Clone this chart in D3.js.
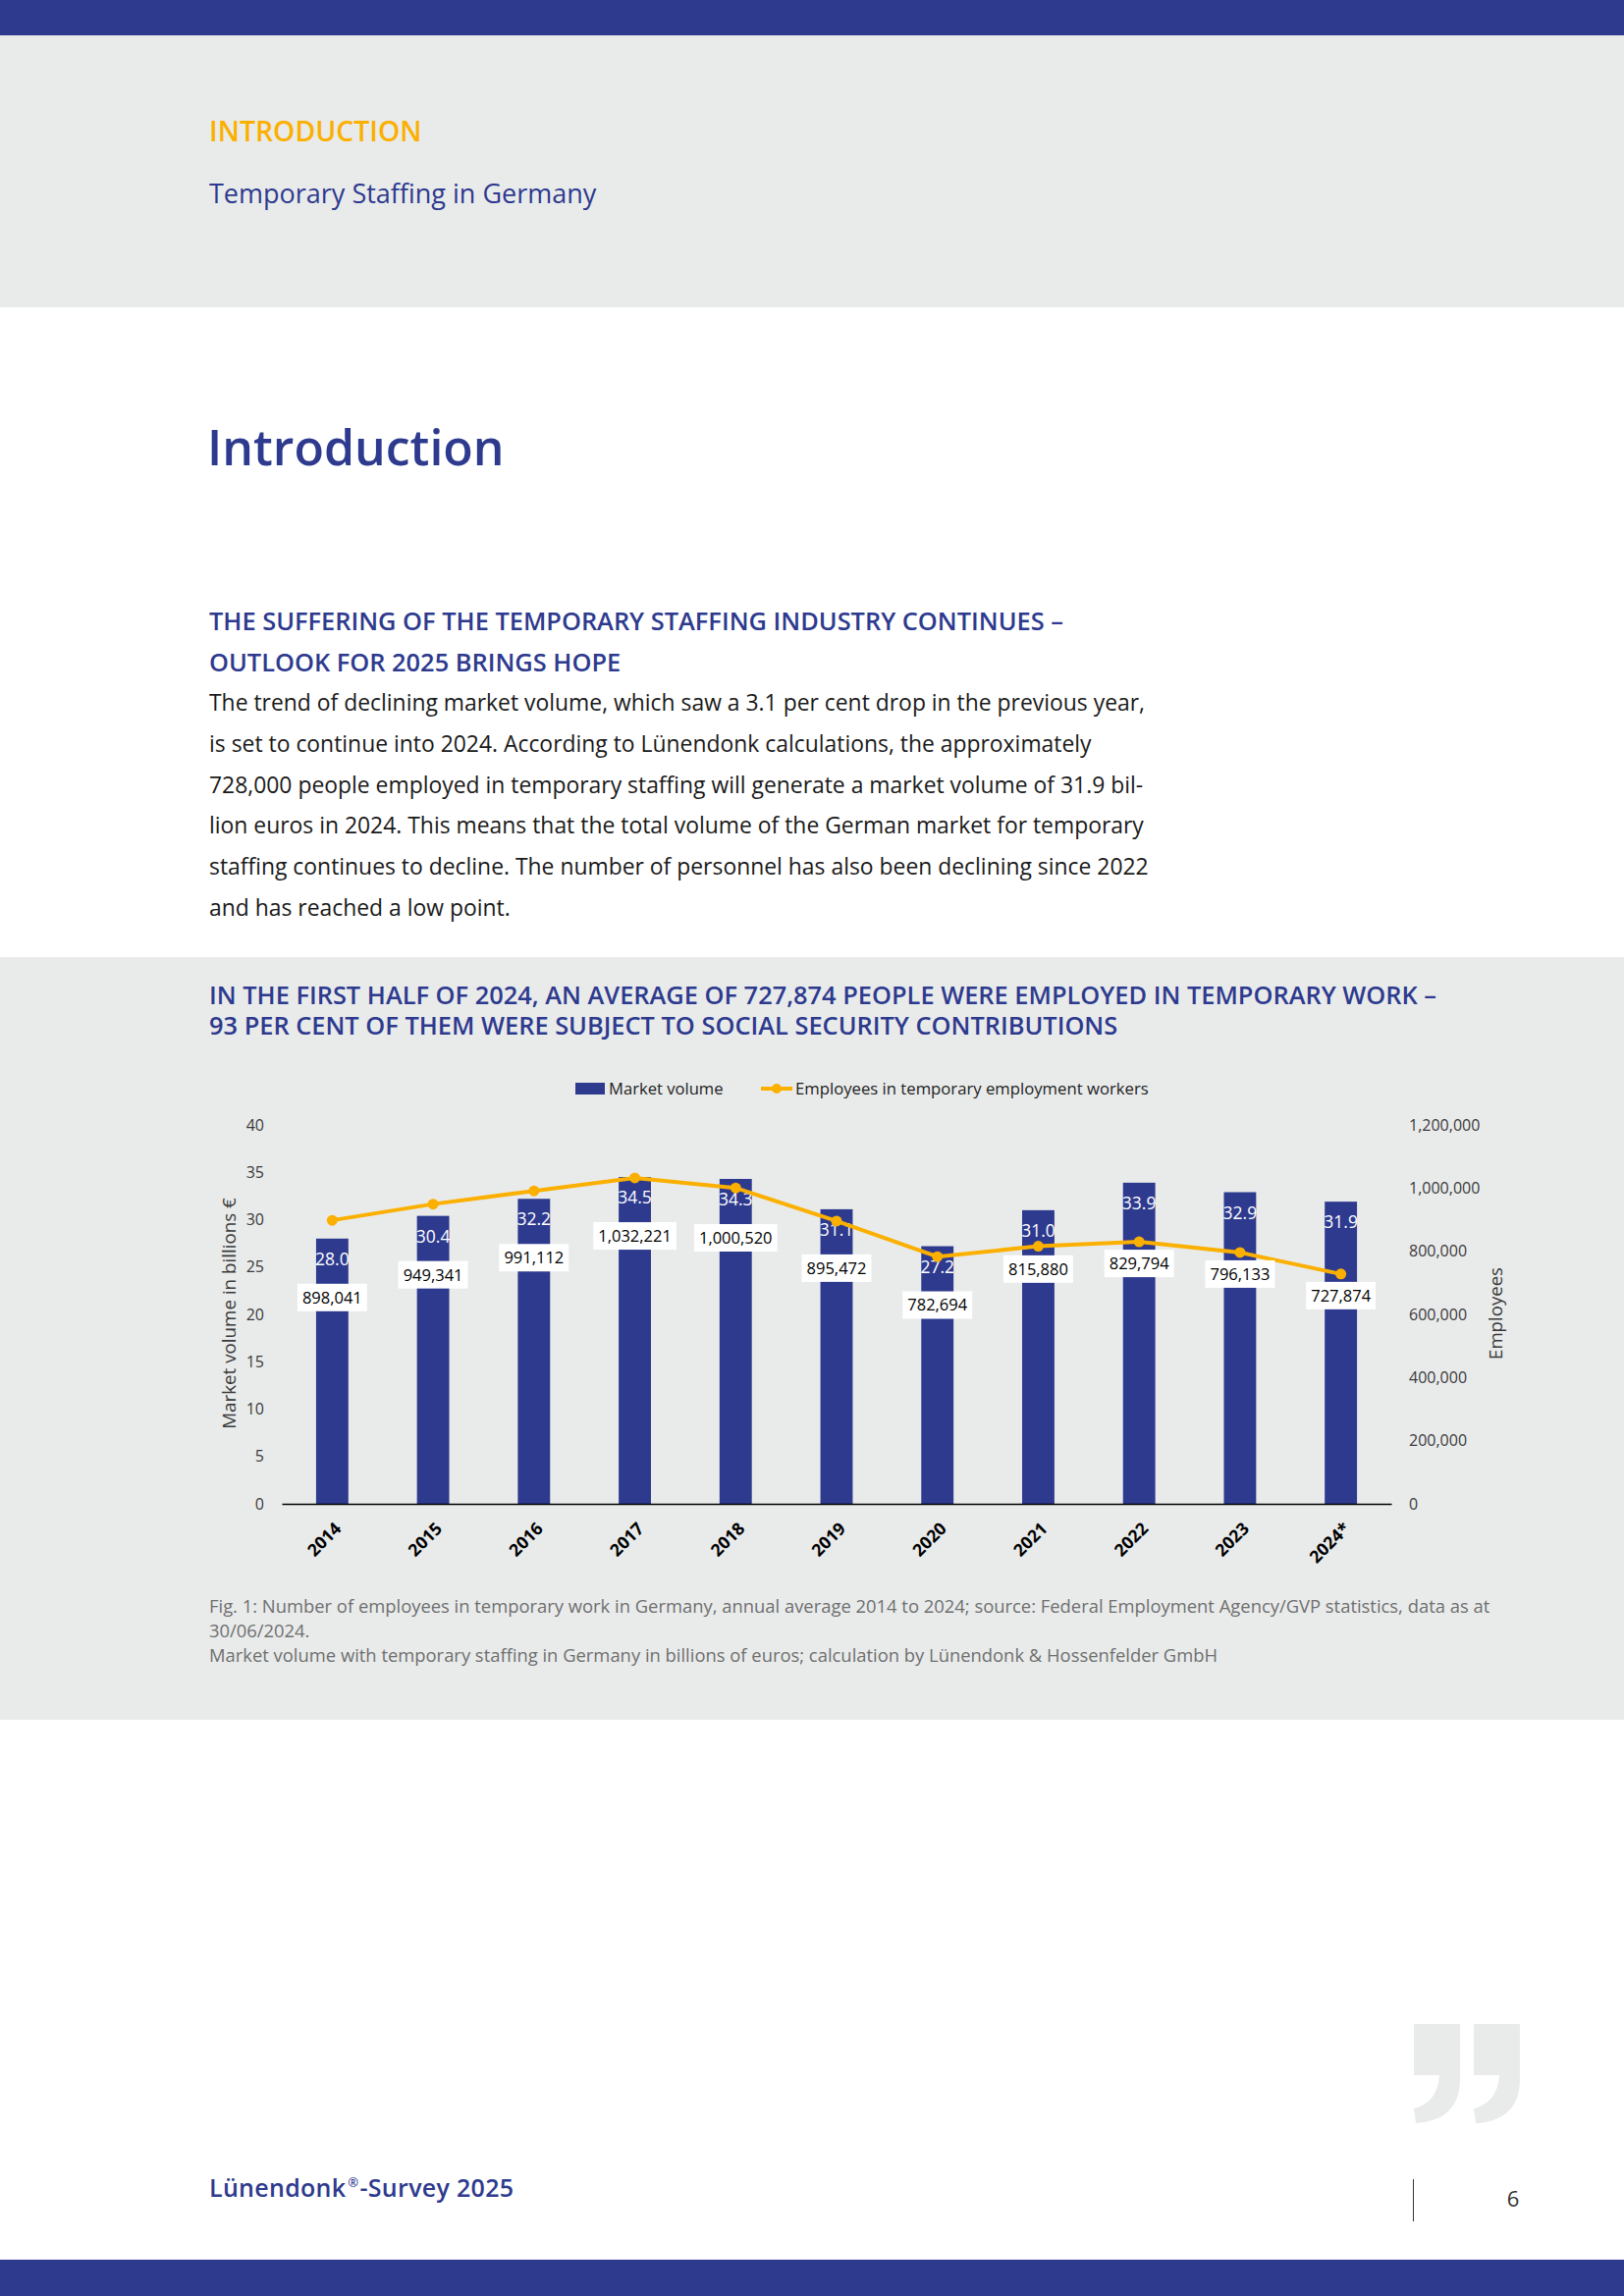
<!DOCTYPE html>
<html>
<head>
<meta charset="utf-8">
<script src="https://cdn.jsdelivr.net/npm/d3@7"></script>
<style>
  body { margin: 0; background: #fff; }
  svg { display: block; }
  text { font-family: "Open Sans", sans-serif; }
</style>
</head>
<body>
<div id="page"></div>
<script>
// chart data
const years = ["2014", "2015", "2016", "2017", "2018", "2019", "2020", "2021", "2022", "2023", "2024*"];
const marketVolume = [28.0, 30.4, 32.2, 34.5, 34.3, 31.1, 27.2, 31.0, 33.9, 32.9, 31.9];
const employees = [898041, 949341, 991112, 1032221, 1000520, 895472, 782694, 815880, 829794, 796133, 727874];
const volumeTicks = [0, 5, 10, 15, 20, 25, 30, 35, 40];
const employeeTicks = [0, 200000, 400000, 600000, 800000, 1000000, 1200000];
const legendLabels = ["Market volume", "Employees in temporary employment workers"];

// page texts
const headingLines = [
    "THE SUFFERING OF THE TEMPORARY STAFFING INDUSTRY CONTINUES –",
    "OUTLOOK FOR 2025 BRINGS HOPE"
];
const bodyLines = [
    "The trend of declining market volume, which saw a 3.1 per cent drop in the previous year,",
    "is set to continue into 2024. According to Lünendonk calculations, the approximately",
    "728,000 people employed in temporary staffing will generate a market volume of 31.9 bil-",
    "lion euros in 2024. This means that the total volume of the German market for temporary",
    "staffing continues to decline. The number of personnel has also been declining since 2022",
    "and has reached a low point."
];
const chartTitleLines = [
    "IN THE FIRST HALF OF 2024, AN AVERAGE OF 727,874 PEOPLE WERE EMPLOYED IN TEMPORARY WORK –",
    "93 PER CENT OF THEM WERE SUBJECT TO SOCIAL SECURITY CONTRIBUTIONS"
];
const captionLines = [
    "Fig. 1: Number of employees in temporary work in Germany, annual average 2014 to 2024; source: Federal Employment Agency/GVP statistics, data as at",
    "30/06/2024.",
    "Market volume with temporary staffing in Germany in billions of euros; calculation by Lünendonk & Hossenfelder GmbH"
];

const navy = "#2e3a8e";
const orange = "#fbb000";
const grey = "#e9ebeb";

const W = 1654, H = 2339;
const svg = d3.select("#page").append("svg").attr("width", W).attr("height", H);

// ---- page frame ----
svg.append("rect").attr("x", 0).attr("y", 0).attr("width", W).attr("height", 36).attr("fill", navy);
svg.append("rect").attr("x", 0).attr("y", 36).attr("width", W).attr("height", 277).attr("fill", grey);
svg.append("rect").attr("x", 0).attr("y", 975).attr("width", W).attr("height", 777).attr("fill", grey);
svg.append("rect").attr("x", 0).attr("y", 2302).attr("width", W).attr("height", 37).attr("fill", navy);

svg.append("text").attr("x", 213).attr("y", 144)
    .attr("font-size", 28.4).attr("font-weight", 600).attr("fill", orange)
    .text("INTRODUCTION");
svg.append("text").attr("x", 213).attr("y", 207)
    .attr("font-size", 27).attr("font-weight", 500).attr("fill", navy)
    .text("Temporary Staffing in Germany");

svg.append("text").attr("x", 211).attr("y", 474)
    .attr("font-size", 50).attr("font-weight", 600).attr("fill", navy)
    .text("Introduction");

svg.append("g").selectAll("text").data(headingLines).join("text")
    .attr("x", 213).attr("y", (d, i) => 642 + i * 41.5)
    .attr("font-size", 25.4).attr("font-weight", 600).attr("fill", navy)
    .text(d => d);

svg.append("g").selectAll("text").data(bodyLines).join("text")
    .attr("x", 213).attr("y", (d, i) => 724 + i * 41.8)
    .attr("font-size", 22.9).attr("fill", "#1a1a1a")
    .text(d => d);

svg.append("g").selectAll("text").data(chartTitleLines).join("text")
    .attr("x", 213).attr("y", (d, i) => 1023 + i * 31)
    .attr("font-size", 25.4).attr("font-weight", 600).attr("fill", navy)
    .text(d => d);

svg.append("g").selectAll("text").data(captionLines).join("text")
    .attr("x", 213).attr("y", (d, i) => 1643 + i * 25)
    .attr("font-size", 18.4).attr("fill", "#6f6f6f")
    .text(d => d);

// ---- chart ----
const x = d3.scaleBand().domain(years).range([287, 1417]).paddingInner(0.68).paddingOuter(0.34);
const yLeft = d3.scaleLinear().domain([0, 40]).range([1532, 1146]);
const yRight = d3.scaleLinear().domain([0, 1200000]).range([1532, 1146]);
const fmt = d3.format(",");

const chart = svg.append("g");

const leftAxis = chart.append("g").attr("transform", "translate(287,0)")
    .call(d3.axisLeft(yLeft).tickValues(volumeTicks).tickSize(0).tickPadding(18));
leftAxis.select(".domain").remove();
leftAxis.selectAll("text").attr("font-size", 16).attr("fill", "#3a3a3a").attr("font-family", "Open Sans");

const rightAxis = chart.append("g").attr("transform", "translate(1417,0)")
    .call(d3.axisRight(yRight).tickValues(employeeTicks).tickSize(0).tickPadding(18).tickFormat(fmt));
rightAxis.select(".domain").remove();
rightAxis.selectAll("text").attr("font-size", 16).attr("fill", "#3a3a3a").attr("font-family", "Open Sans");

chart.append("text")
    .attr("transform", "translate(240,1338) rotate(-90)")
    .attr("text-anchor", "middle").attr("font-size", 18.8).attr("fill", "#3a3a3a")
    .text("Market volume in billions €");
chart.append("text")
    .attr("transform", "translate(1530,1338) rotate(-90)")
    .attr("text-anchor", "middle").attr("font-size", 18.6).attr("fill", "#3a3a3a")
    .text("Employees");

// bars
chart.append("g").selectAll("rect").data(marketVolume).join("rect")
    .attr("x", (d, i) => x(years[i]))
    .attr("y", d => yLeft(d))
    .attr("width", x.bandwidth())
    .attr("height", d => yLeft(0) - yLeft(d))
    .attr("fill", navy);

// bottom axis
const bottomAxis = chart.append("g").attr("transform", "translate(0,1532)")
    .call(d3.axisBottom(x).tickSize(0).tickSizeOuter(0).tickPadding(0));
bottomAxis.select(".domain").attr("stroke", "#000").attr("stroke-width", 1.6);
bottomAxis.selectAll("text")
    .attr("font-family", "Liberation Sans").attr("font-weight", 700).attr("font-size", 17.5).attr("fill", "#000")
    .attr("text-anchor", "end").attr("dy", "0.35em").attr("y", 0)
    .attr("transform", "translate(6,22) rotate(-45)");

// bar value labels
chart.append("g").selectAll("text").data(marketVolume).join("text")
    .attr("x", (d, i) => x(years[i]) + x.bandwidth() / 2)
    .attr("y", d => yLeft(d) + 27)
    .attr("text-anchor", "middle").attr("font-size", 17.5).attr("fill", "#fff")
    .text(d => d.toFixed(1));

// employee line
const cx = (d, i) => x(years[i]) + x.bandwidth() / 2;
const line = d3.line().x(cx).y(d => yRight(d));
chart.append("path").datum(employees)
    .attr("d", line).attr("fill", "none").attr("stroke", orange).attr("stroke-width", 4);
chart.append("g").selectAll("circle").data(employees).join("circle")
    .attr("cx", cx).attr("cy", d => yRight(d)).attr("r", 5.5).attr("fill", orange);

// employee labels: below the point and below the bar value label
const labelY = (d, i) => Math.max(yRight(d) + 22, yLeft(marketVolume[i]) + 27 + 33);
const empLabels = chart.append("g").selectAll("g").data(employees).join("g")
    .attr("transform", (d, i) => `translate(${cx(d, i)},${labelY(d, i)})`);
empLabels.append("rect").attr("fill", "#fff").attr("y", -14).attr("height", 28);
empLabels.append("text")
    .attr("text-anchor", "middle").attr("dy", "0.36em").attr("font-size", 16.5).attr("font-weight", 500).attr("fill", "#000")
    .text(d => fmt(d));
empLabels.each(function () {
    const g = d3.select(this);
    const w = g.select("text").node().getComputedTextLength() + 10;
    g.select("rect").attr("x", -w / 2).attr("width", w);
});

// legend
const legend = chart.append("g");
legend.append("rect").attr("x", 586).attr("y", 1103).attr("width", 30).attr("height", 12).attr("fill", navy);
legend.append("text").attr("x", 620).attr("y", 1115).attr("font-size", 16.6).attr("fill", "#222").text(legendLabels[0]);
legend.append("line").attr("x1", 775).attr("x2", 807).attr("y1", 1109).attr("y2", 1109)
    .attr("stroke", orange).attr("stroke-width", 4);
legend.append("circle").attr("cx", 791).attr("cy", 1109).attr("r", 5).attr("fill", orange);
legend.append("text").attr("x", 810).attr("y", 1115).attr("font-size", 16.7).attr("fill", "#222").text(legendLabels[1]);

// ---- footer ----
const quote = (x0, y0) => `M${x0},${y0} L${x0 + 47},${y0} L${x0 + 47},${y0 + 58} Q${x0 + 46},${y0 + 98} ${x0 + 2},${y0 + 101} L${x0},${y0 + 86} Q${x0 + 24},${y0 + 80} ${x0 + 26},${y0 + 52} L${x0},${y0 + 52} Z`;
svg.append("path").attr("d", quote(1440, 2062) + quote(1501, 2062)).attr("fill", grey);

const foot = svg.append("text").attr("x", 213).attr("y", 2238)
    .attr("font-size", 25).attr("font-weight", 600).attr("fill", navy).attr("letter-spacing", 0.3);
foot.append("tspan").text("Lünendonk");
foot.append("tspan").attr("font-size", 13).attr("dy", -10).attr("dx", 2).text("®");
foot.append("tspan").attr("dy", 10).attr("dx", 1).text("-Survey 2025");

svg.append("line").attr("x1", 1439.5).attr("x2", 1439.5).attr("y1", 2220).attr("y2", 2263)
    .attr("stroke", "#333").attr("stroke-width", 1);
svg.append("text").attr("x", 1541).attr("y", 2248).attr("text-anchor", "middle")
    .attr("font-size", 22).attr("fill", "#333").text("6");
</script>
</body>
</html>
